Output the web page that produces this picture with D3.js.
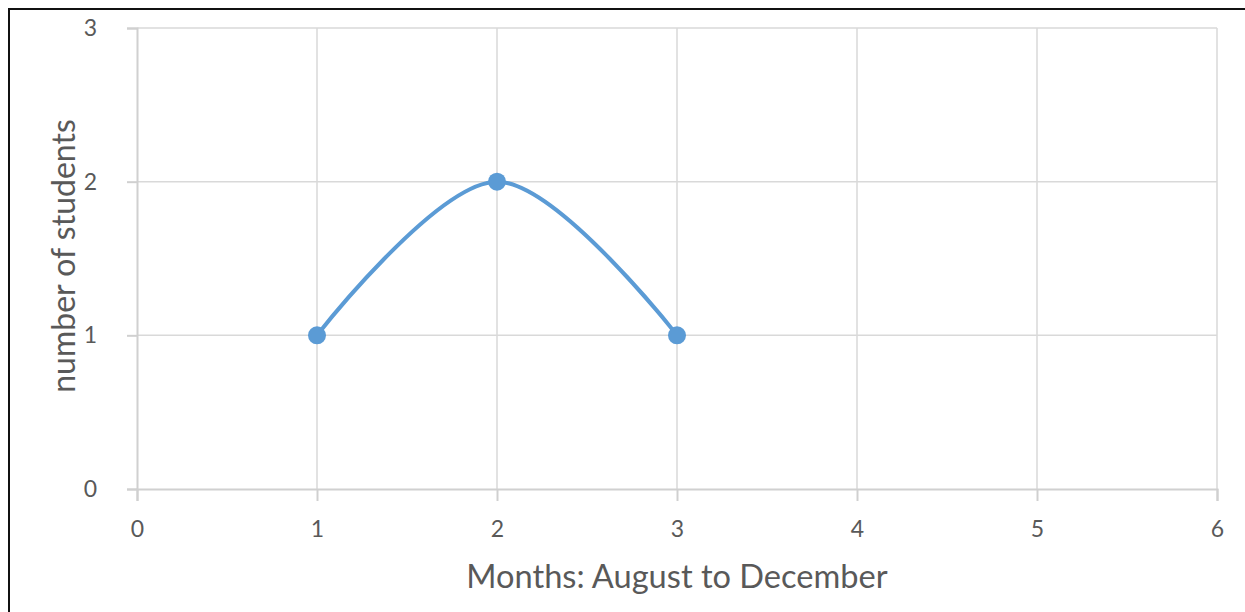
<!DOCTYPE html>
<html>
<head>
<meta charset="utf-8">
<script src="https://cdn.jsdelivr.net/npm/d3@7"></script>
<style>
  html, body { margin: 0; padding: 0; background: #fff; }
  svg { display: block; }
  text { font-family: Lato, "Open Sans", sans-serif; fill: #595959; }
</style>
</head>
<body>
<svg id="chart" width="1245" height="612"></svg>
<script>
// Students counted per month (x = month index)
const months = [1, 2, 3];
const students = [1, 2, 1];
const xTicks = [0, 1, 2, 3, 4, 5, 6];
const yTicks = [0, 1, 2, 3];
const xTitle = "Months: August to December";
const yTitle = "number of students";

const svg = d3.select("#chart");
const W = 1245, H = 612;
const plot = { left: 137, right: 1217, top: 28, bottom: 489 };

// frame around the chart area
svg.append("rect")
  .attr("x", 9).attr("y", 9)
  .attr("width", W + 20).attr("height", H + 20)
  .attr("fill", "none").attr("stroke", "#111").attr("stroke-width", 2);

const x = d3.scaleLinear().domain([0, 6]).range([plot.left, plot.right]);
const y = d3.scaleLinear().domain([0, 3]).range([plot.bottom, plot.top]);

const grid = svg.append("g");
// vertical gridlines
grid.selectAll("line.vx").data(xTicks.filter(d => d > 0)).enter().append("line")
  .attr("x1", d => x(d)).attr("x2", d => x(d))
  .attr("y1", plot.top).attr("y2", plot.bottom)
  .attr("stroke", "#d9d9d9").attr("stroke-width", 1.5);
// horizontal gridlines
grid.selectAll("line.hy").data(yTicks.filter(d => d > 0)).enter().append("line")
  .attr("x1", plot.left).attr("x2", plot.right)
  .attr("y1", d => y(d)).attr("y2", d => y(d))
  .attr("stroke", "#d9d9d9").attr("stroke-width", 1.5);

// x axis
const xAxis = svg.append("g")
  .attr("transform", `translate(0,${plot.bottom})`)
  .call(d3.axisBottom(x).tickValues(xTicks).tickSize(12).tickPadding(20).tickFormat(d3.format("d")));
// y axis
const yAxis = svg.append("g")
  .attr("transform", `translate(${plot.left},0)`)
  .call(d3.axisLeft(y).tickValues(yTicks).tickSize(10).tickPadding(30).tickFormat(d3.format("d")));

[xAxis, yAxis].forEach(g => {
  g.select(".domain").attr("stroke", "#d0d0d0").attr("stroke-width", 2);
  g.selectAll(".tick line").attr("stroke", "#d0d0d0").attr("stroke-width", 2);
  g.selectAll(".tick text").attr("font-size", 23).attr("fill", "#5f5f5f")
    .style("font-family", "Lato, 'Open Sans', sans-serif");
});

// axis titles
svg.append("text")
  .attr("x", 677).attr("y", 588)
  .attr("text-anchor", "middle").attr("font-size", 32.6)
  .text(xTitle);
svg.append("text")
  .attr("transform", `translate(75,256) rotate(-90)`)
  .attr("text-anchor", "middle").attr("font-size", 32)
  .text(yTitle);

// smoothed series line
const pts = months.map((m, i) => [m, students[i]]);
const line = d3.line()
  .x(d => x(d[0])).y(d => y(d[1]))
  .curve(d3.curveCatmullRom.alpha(0.5));
svg.append("path")
  .datum(pts)
  .attr("d", line)
  .attr("fill", "none").attr("stroke", "#5B9BD5").attr("stroke-width", 4)
  .attr("stroke-linecap", "round");

// markers
svg.selectAll("circle.pt").data(pts).enter().append("circle")
  .attr("cx", d => x(d[0])).attr("cy", d => y(d[1]))
  .attr("r", 9).attr("fill", "#5B9BD5");
</script>
</body>
</html>
